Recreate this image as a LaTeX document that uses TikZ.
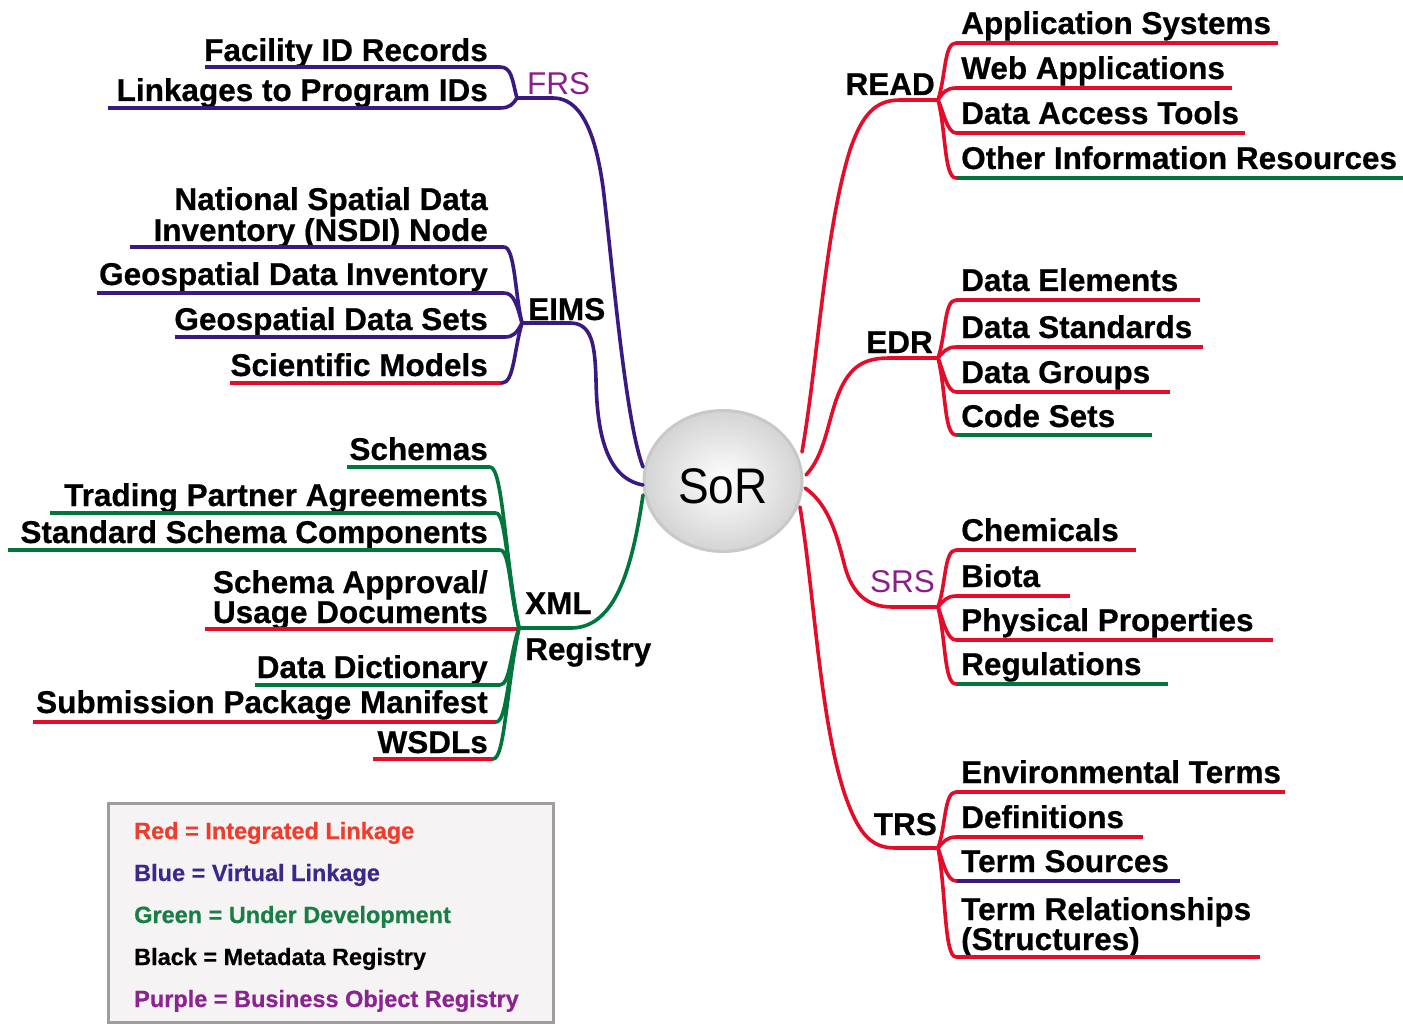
\documentclass[tikz,border=0pt]{standalone}
\usepackage{fontspec}
\usetikzlibrary{shapes.geometric}
\setmainfont{Liberation Sans}[BoldFeatures={FakeBold=0.6}]
\definecolor{lred}{RGB}{228,12,40}
\definecolor{lblue}{RGB}{58,26,130}
\definecolor{lgreen}{RGB}{0,118,60}
\definecolor{ptext}{RGB}{140,30,140}
\definecolor{legred}{RGB}{238,60,45}
\definecolor{legblue}{RGB}{60,40,140}
\definecolor{leggreen}{RGB}{25,125,70}
\definecolor{legpurple}{RGB}{140,35,145}
\definecolor{legfill}{RGB}{245,243,243}
\definecolor{legdraw}{RGB}{160,156,156}
\definecolor{sorborder}{RGB}{200,200,200}
\definecolor{sorouter}{RGB}{212,212,212}
\begin{document}
\begin{tikzpicture}[x=1pt,y=-1pt,
  item/.style={font=\fontsize{31.5}{32}\selectfont\bfseries, inner sep=0pt, text=black},
  lbl/.style={font=\fontsize{31.5}{32}\selectfont\bfseries, inner sep=0pt, text=black},
  plbl/.style={font=\fontsize{31.5}{32}\selectfont, inner sep=0pt, text=ptext},
  branch/.style={line width=3.6pt, line cap=round},
  uline/.style={line width=3.8pt},
  leg/.style={font=\fontsize{23.5}{24}\selectfont\bfseries, inner sep=0pt, anchor=base west}]
\useasboundingbox (0,0) rectangle (1403,1024);
\fill[white] (0,0) rectangle (1403,1024);

\newcommand{\RItem}[6]{%
  \node[item, anchor=base west] (#1) at (961,#2) {#6};
  \coordinate (#1-s) at (956,#3);
  \coordinate (#1-e) at (#4,#3);
  \draw[uline, #5] (#1-s) -- (#1-e);
}
\newcommand{\LItem}[7]{%
  \node[item, anchor=base east] (#1) at (488,#2) {#7};
  \coordinate (#1-s) at (#4,#3);
  \coordinate (#1-e) at (#5,#3);
  \draw[uline, #6] (#1-s) -- (#1-e);
}

% ---------- centre ----------
\node[ellipse, minimum width=158pt, minimum height=141pt, draw=sorborder, line width=3pt,
  inner color=white, outer color=sorouter] (sor) at (723,481) {};
\node[font=\fontsize{50}{50}\selectfont, inner sep=0pt, anchor=base] (sortext) at (723,503) {\scalebox{0.92}[1]{SoR}};

% ---------- junction coordinates ----------
\coordinate (jRead) at (938,100);
\coordinate (jEdr) at (938,358);
\coordinate (jSrs) at (938,607);
\coordinate (jTrs) at (938,848);
\coordinate (jFrs) at (517,98);
\coordinate (jEims) at (522,323);
\coordinate (jXml) at (519,628);

\coordinate (cRead) at (802,452);
\coordinate (cEdr) at (806,475);
\coordinate (cSrs) at (805,488);
\coordinate (cTrs) at (800,507);
\coordinate (cFrs) at (643,467);
\coordinate (cEims) at (643,485);
\coordinate (cXml) at (643,495);

% ---------- main branches ----------
\draw[branch, lred] (cRead) .. controls (818,360) and (825,230) .. (850,150) .. controls (862,115) and (875,100) .. (900,100) -- (jRead);
\draw[branch, lred] (cEdr) .. controls (825,455) and (828,420) .. (838,395) .. controls (850,365) and (865,358) .. (890,358) -- (jEdr);
\draw[branch, lred] (cSrs) .. controls (830,505) and (838,540) .. (845,567) .. controls (852,592) and (866,607) .. (892,607) -- (jSrs);
\draw[branch, lred] (cTrs) .. controls (815,600) and (820,720) .. (845,795) .. controls (858,832) and (870,848) .. (895,848) -- (jTrs);
\draw[branch, lblue] (cFrs) .. controls (625,420) and (612,260) .. (603,187) .. controls (595,130) and (580,98) .. (553,98) -- (jFrs);
\draw[branch, lblue] (cEims) .. controls (605,478) and (597,430) .. (596,380) .. controls (595,345) and (592,323) .. (570,323) -- (jEims);
\draw[branch, lgreen] (cXml) .. controls (632,570) and (615,627) .. (572,628) -- (jXml);

% ---------- labels ----------
\node[lbl, anchor=base east] (read) at (935,95) {READ};
\node[lbl, anchor=base east] (edr) at (933,353) {EDR};
\node[plbl, anchor=base east] (srs) at (935,592) {SRS};
\node[lbl, anchor=base east] (trs) at (937,835) {TRS};
\node[plbl, anchor=base west] (frs) at (527,95) {FRS};
\node[lbl, anchor=base west] (eims) at (528,320) {EIMS};
\node[lbl, anchor=base west] (xml) at (525,614) {XML};
\node[lbl, anchor=base west] (registry) at (525,660) {Registry};

% ---------- right items ----------
\RItem{app}{34}{43}{1278}{lred}{Application Systems}
\RItem{web}{79}{88}{1232}{lred}{Web Applications}
\RItem{dat}{124}{133}{1245}{lred}{Data Access Tools}
\RItem{oth}{169}{178}{1403}{lgreen}{Other Information Resources}
\RItem{del}{291}{300}{1200}{lred}{Data Elements}
\RItem{dst}{338}{347}{1203}{lred}{Data Standards}
\RItem{dgr}{383}{392}{1170}{lred}{Data Groups}
\RItem{cod}{427}{435}{1152}{lgreen}{Code Sets}
\RItem{che}{541}{550}{1136}{lred}{Chemicals}
\RItem{bio}{587}{596}{1070}{lred}{Biota}
\RItem{phy}{631}{640}{1273}{lred}{Physical Properties}
\RItem{reg}{675}{684}{1168}{lgreen}{Regulations}
\RItem{env}{783}{792}{1285}{lred}{Environmental Terms}
\RItem{def}{828}{837}{1143}{lred}{Definitions}
\RItem{tso}{872}{881}{1180}{lblue}{Term Sources}
\node[item, anchor=base west] (trel1) at (961,920) {Term Relationships};
\RItem{trel}{950}{957}{1260}{lred}{(Structures)}

% right fans
\draw[branch, lred] (jRead) .. controls (946,75) and (944,43) .. (app-s);
\draw[branch, lred] (jRead) .. controls (943,92) and (947,88) .. (web-s);
\draw[branch, lred] (jRead) .. controls (943,110) and (947,133) .. (dat-s);
\draw[branch, lred] (jRead) .. controls (946,130) and (944,178) .. (oth-s);
\draw[branch, lred] (jEdr) .. controls (946,335) and (944,300) .. (del-s);
\draw[branch, lred] (jEdr) .. controls (943,352) and (947,347) .. (dst-s);
\draw[branch, lred] (jEdr) .. controls (943,370) and (947,392) .. (dgr-s);
\draw[branch, lred] (jEdr) .. controls (946,390) and (944,435) .. (cod-s);
\draw[branch, lred] (jSrs) .. controls (946,585) and (944,550) .. (che-s);
\draw[branch, lred] (jSrs) .. controls (943,601) and (947,596) .. (bio-s);
\draw[branch, lred] (jSrs) .. controls (943,620) and (947,640) .. (phy-s);
\draw[branch, lred] (jSrs) .. controls (946,640) and (944,684) .. (reg-s);
\draw[branch, lred] (jTrs) .. controls (946,826) and (944,792) .. (env-s);
\draw[branch, lred] (jTrs) .. controls (943,842) and (947,837) .. (def-s);
\draw[branch, lred] (jTrs) .. controls (943,862) and (947,881) .. (tso-s);
\draw[branch, lred] (jTrs) .. controls (946,890) and (944,957) .. (trel-s);

% ---------- left items ----------
\LItem{fac}{61}{67}{205}{500}{lblue}{Facility ID Records}
\LItem{lnk}{101}{108}{108}{500}{lblue}{Linkages to Program IDs}
\node[item, anchor=base east] (nsdi1) at (488,210) {National Spatial Data};
\LItem{nsdi}{241}{247}{130}{504}{lblue}{Inventory (NSDI) Node}
\LItem{gdi}{285}{293}{97}{504}{lblue}{Geospatial Data Inventory}
\LItem{gds}{330}{337}{175}{505}{lblue}{Geospatial Data Sets}
\LItem{sci}{376}{383}{230}{502}{lred}{Scientific Models}
\LItem{sch}{460}{467}{347}{490}{lgreen}{Schemas}
\LItem{tpa}{506}{513}{50}{496}{lgreen}{Trading Partner Agreements}
\LItem{ssc}{543}{550}{8}{500}{lgreen}{Standard Schema Components}
\node[item, anchor=base east] (sa1) at (488,593) {Schema Approval/};
\LItem{sau}{623}{629}{205}{519}{lred}{Usage Documents}
\LItem{ddi}{678}{685}{255}{500}{lgreen}{Data Dictionary}
\LItem{spm}{713}{722}{33}{496}{lred}{Submission Package Manifest}
\LItem{wsd}{753}{759}{373}{493}{lred}{WSDLs}

% left fans
\draw[branch, lblue] (jFrs) .. controls (512,80) and (512,67) .. (fac-e);
\draw[branch, lblue] (jFrs) .. controls (513,104) and (510,108) .. (lnk-e);
\draw[branch, lblue] (jEims) .. controls (515,295) and (515,247) .. (nsdi-e);
\draw[branch, lblue] (jEims) .. controls (517,305) and (514,293) .. (gdi-e);
\draw[branch, lblue] (jEims) .. controls (517,333) and (513,337) .. (gds-e);
\draw[branch, lblue] (jEims) .. controls (514,350) and (514,383) .. (sci-e);
\draw[branch, lgreen] (jXml) .. controls (505,560) and (503,467) .. (sch-e);
\draw[branch, lgreen] (jXml) .. controls (507,575) and (506,513) .. (tpa-e);
\draw[branch, lgreen] (jXml) .. controls (510,595) and (510,550) .. (ssc-e);
\draw[branch, lgreen] (jXml) .. controls (511,650) and (510,685) .. (ddi-e);
\draw[branch, lgreen] (jXml) .. controls (508,670) and (507,722) .. (spm-e);
\draw[branch, lgreen] (jXml) .. controls (506,690) and (505,759) .. (wsd-e);

% ---------- legend ----------
\node[draw=legdraw, fill=legfill, line width=3pt, minimum width=445pt, minimum height=219pt, inner sep=0pt, anchor=north west] (legend) at (107,802) {};
\node[leg, text=legred] (l1) at (134,839) {Red = Integrated Linkage};
\node[leg, text=legblue] (l2) at (134,881) {Blue = Virtual Linkage};
\node[leg, text=leggreen] (l3) at (134,923) {Green = Under Development};
\node[leg, text=black] (l4) at (134,965) {Black = Metadata Registry};
\node[leg, text=legpurple] (l5) at (134,1007) {Purple = Business Object Registry};
\end{tikzpicture}
\end{document}
